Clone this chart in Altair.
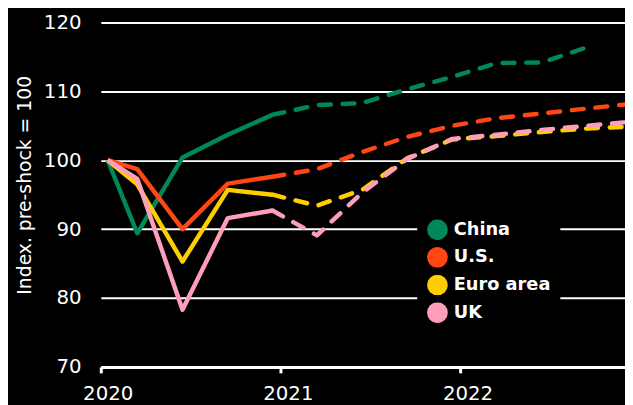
import altair as alt
import pandas as pd

# Quarterly observation dates (first five are actual data, the rest are forecasts)
dates = ["2020-01-15", "2020-03-15", "2020-06-15", "2020-09-15", "2020-12-15",
         "2021-03-15", "2021-06-15", "2021-09-15", "2021-12-15",
         "2022-03-15", "2022-06-15", "2022-09-15", "2022-12-15"]
n_actual = 5

countries = ["China", "U.S.", "Euro area", "UK"]
colors = ["#00875A", "#FF4713", "#FFCE00", "#FF9EBB"]

china = [100, 89.4, 100.4, 103.7, 106.6, 108.0, 108.3, 110.3, 112.1, 114.1, 114.2, 116.4, None]
us = [100, 98.7, 90.0, 96.6, 97.6, 98.7, 101.2, 103.4, 105.0, 106.1, 106.8, 107.5, 108.2]
euro = [100, 96.5, 85.3, 95.7, 95.0, 93.4, 95.7, 100.3, 103.0, 103.5, 104.1, 104.6, 104.9]
uk = [100, 97.3, 78.3, 91.6, 92.7, 89.1, 95.3, 100.2, 103.1, 103.7, 104.4, 105.0, 105.6]

year_ticks = [2020, 2021, 2022]
y_ticks = [70, 80, 90, 100, 110, 120]

series = dict(zip(countries, [china, us, euro, uk]))
rows = []
for c in countries:
    for i, (d, v) in enumerate(zip(dates, series[c])):
        if v is None:
            continue
        if i < n_actual:
            rows.append({"date": d + "T00:00:00", "country": c, "value": v, "kind": "actual"})
        if i >= n_actual - 1:
            rows.append({"date": d + "T00:00:00", "country": c, "value": v, "kind": "forecast"})
df = pd.DataFrame(rows)

FONT = "DejaVu Sans"

x = alt.X(
    "date:T",
    scale=alt.Scale(domain=[alt.DateTime(year=2020, month=1, date=1),
                            alt.DateTime(year=2022, month=12, date=1)]),
    axis=alt.Axis(
        title=None, format="%Y",
        values=[alt.DateTime(year=yv, month=1, date=1) for yv in year_ticks],
        grid=False, domain=True, domainColor="white", domainWidth=3,
        ticks=True, tickColor="white", tickWidth=3, tickSize=6,
        labelPadding=11, labelFontSize=20, labelColor="white", labelFont=FONT,
        labelOffset=7, labelFlush=False, labelOverlap=False, labelBound=False,
    ),
)
y = alt.Y(
    "value:Q",
    scale=alt.Scale(domain=[70, 120], nice=False, zero=False),
    axis=alt.Axis(
        values=y_ticks, title="Index. pre-shock = 100",
        grid=True, gridColor="white", gridWidth=2,
        domain=False, ticks=False, tickSize=0, labelPadding=20,
        labelFontSize=20, labelColor="white", labelFont=FONT,
        titleFont=FONT, titleFontSize=19, titleFontWeight="normal", titleColor="white",
        titleAngle=270, titleX=-71, titleY=164.5, titleAlign="center",
        titleBaseline="alphabetic",
    ),
)
legend = alt.Legend(
    orient="none", legendX=320.5, legendY=189.5, title=None,
    symbolType="circle", symbolSize=441, symbolStrokeWidth=0,
    symbolOpacity=1,
    fillColor="black", padding=10, clipHeight=21,
    labelColor="white", labelFont=FONT, labelFontSize=18, labelFontWeight="bold",
    labelOffset=6, rowPadding=7,
)
color = alt.Color("country:N", scale=alt.Scale(domain=countries, range=colors), legend=legend)

# Legend-only layer (first, so the shared legend uses filled circles); no rows survive the filter
legend_layer = alt.Chart(df).transform_filter("false").mark_point(
    filled=True, opacity=1
).encode(x=x, y=y, color=color)

solid = alt.Chart(df).transform_filter(alt.datum.kind == "actual").mark_line(
    strokeWidth=4.5, strokeJoin="round", strokeCap="butt"
).encode(x=x, y=y, color=color, detail="country:N")

dashed = alt.Chart(df).transform_filter(alt.datum.kind == "forecast").mark_line(
    strokeWidth=4.5, strokeDash=[12, 12], strokeCap="round", strokeJoin="round"
).encode(x=x, y=y, color=color, detail="country:N")

chart = alt.layer(legend_layer, solid, dashed).properties(
    width=531, height=349,
    autosize=alt.AutoSizeParams(type="none"),
    padding={"left": 94, "top": 12, "right": 0, "bottom": 40},
    background="black",
).configure_view(strokeWidth=0)

chart.save("out.html", embed_options={"renderer": "svg", "actions": False})
